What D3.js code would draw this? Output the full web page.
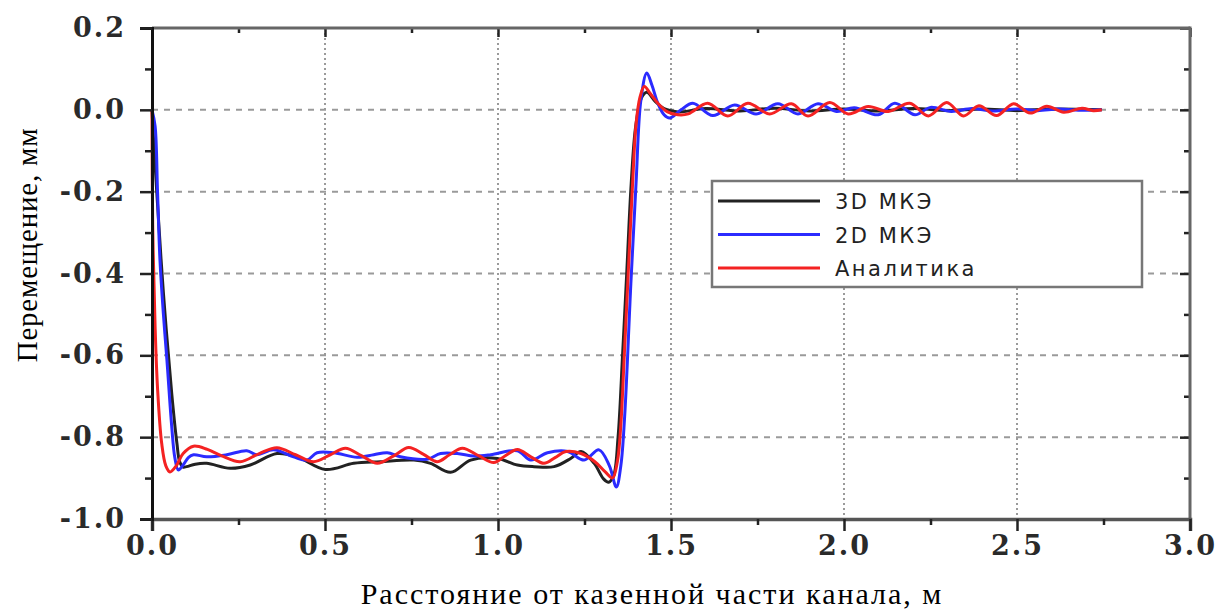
<!DOCTYPE html>
<html>
<head>
<meta charset="utf-8">
<script src="https://cdn.jsdelivr.net/npm/d3@7"></script>
<style>
  body { margin: 0; background: #fff; }
  svg { display: block; }
</style>
</head>
<body>
<div id="chart"></div>
<script>
// series names and colours in legend order
var seriesNames = ["3D МКЭ", "2D МКЭ", "Аналитика"];
var seriesColors = ["#222222", "#2b2bff", "#f42222"];

// tick values
var xMajor = [0, 0.5, 1.0, 1.5, 2.0, 2.5, 3.0];
var xMinor = [0.25, 0.75, 1.25, 1.75, 2.25, 2.75];
var yMajor = [0.2, 0.0, -0.2, -0.4, -0.6, -0.8, -1.0];
var yMinor = [0.1, -0.1, -0.3, -0.5, -0.7, -0.9];
var xGrid = [0.5, 1.0, 1.5, 2.0, 2.5];
var yGrid = [0.0, -0.2, -0.4, -0.6, -0.8];

// 3D МКЭ (black)
var fem3d = [[0,0],[0.005,-0.08],[0.014,-0.204],[0.033,-0.448],[0.057,-0.693],[0.072,-0.815],[0.08,-0.86],
  [0.09,-0.873],[0.1,-0.872],[0.125,-0.866],[0.158,-0.864],[0.226,-0.876],[0.284,-0.868],[0.361,-0.84],
  [0.419,-0.848],[0.501,-0.879],[0.583,-0.864],[0.66,-0.86],[0.757,-0.856],[0.805,-0.864],[0.863,-0.886],
  [0.921,-0.856],[0.998,-0.852],[1.056,-0.868],[1.104,-0.872],[1.162,-0.872],[1.21,-0.852],[1.24,-0.835],
  [1.278,-0.864],[1.305,-0.902],[1.32,-0.91],[1.334,-0.895],[1.347,-0.8],[1.36,-0.6],[1.372,-0.4],
  [1.385,-0.18],[1.398,-0.04],[1.415,0.03],[1.43,0.043],[1.455,0.02],[1.48,0.003],[1.52,-0.005],
  [1.6,0.003],[1.7,-0.003],[1.8,0.004],[1.9,-0.003],[2.0,0.002],[2.1,-0.003],[2.2,0.003],[2.3,-0.002],
  [2.4,0.002],[2.5,-0.002],[2.6,0.002],[2.745,0]];

// 2D МКЭ (blue)
var fem2d = [[0,0],[0.009,-0.04],[0.016,-0.2],[0.023,-0.367],[0.033,-0.5],[0.043,-0.61],[0.057,-0.774],
  [0.066,-0.85],[0.076,-0.88],[0.09,-0.868],[0.105,-0.85],[0.12,-0.843],[0.158,-0.848],[0.216,-0.843],
  [0.274,-0.833],[0.303,-0.843],[0.351,-0.831],[0.409,-0.848],[0.448,-0.856],[0.477,-0.838],[0.525,-0.838],
  [0.593,-0.849],[0.641,-0.843],[0.68,-0.838],[0.718,-0.848],[0.795,-0.854],[0.834,-0.84],[0.882,-0.84],
  [0.931,-0.846],[0.979,-0.843],[1.056,-0.833],[1.095,-0.856],[1.143,-0.838],[1.201,-0.835],[1.249,-0.856],
  [1.292,-0.831],[1.322,-0.87],[1.342,-0.922],[1.355,-0.87],[1.366,-0.75],[1.384,-0.424],[1.399,-0.179],
  [1.413,0.024],[1.43,0.09],[1.445,0.06],[1.462,0.016],[1.48,-0.012],[1.496,-0.02],[1.529,0],[1.563,0.016],
  [1.621,-0.014],[1.684,0.012],[1.746,-0.01],[1.809,0.015],[1.867,-0.01],[1.925,0.015],[1.978,-0.004],
  [2.03,0.005],[2.099,-0.012],[2.147,0.016],[2.205,-0.012],[2.25,0.006],[2.31,-0.004],[2.37,0.003],
  [2.43,-0.003],[2.5,0.002],[2.56,-0.002],[2.62,0.002],[2.69,-0.001],[2.745,0]];

// Аналитика (red)
var analytic = [[0,0],[0.002,-0.28],[0.009,-0.53],[0.016,-0.68],[0.028,-0.815],[0.04,-0.87],[0.052,-0.885],
  [0.07,-0.87],[0.09,-0.84],[0.12,-0.822],[0.16,-0.83],[0.2,-0.845],[0.255,-0.86],[0.31,-0.84],[0.361,-0.826],
  [0.415,-0.843],[0.467,-0.86],[0.515,-0.843],[0.559,-0.827],[0.605,-0.845],[0.651,-0.864],[0.7,-0.845],
  [0.742,-0.825],[0.785,-0.842],[0.824,-0.86],[0.86,-0.843],[0.897,-0.827],[0.945,-0.846],[0.988,-0.862],
  [1.02,-0.846],[1.056,-0.83],[1.095,-0.848],[1.133,-0.864],[1.165,-0.85],[1.196,-0.835],[1.24,-0.84],
  [1.28,-0.86],[1.31,-0.885],[1.331,-0.9],[1.345,-0.86],[1.355,-0.77],[1.365,-0.6],[1.375,-0.424],
  [1.389,-0.18],[1.399,-0.035],[1.41,0.03],[1.423,0.057],[1.44,0.04],[1.462,0.016],[1.49,-0.005],
  [1.52,-0.012],[1.55,-0.01],[1.606,0.016],[1.664,-0.015],[1.722,0.016],[1.785,-0.01],[1.848,0.015],
  [1.896,-0.015],[1.959,0.018],[2.012,-0.01],[2.07,0.008],[2.128,-0.004],[2.19,0.016],[2.244,-0.015],
  [2.297,0.018],[2.345,-0.015],[2.39,0.01],[2.441,-0.014],[2.49,0.015],[2.538,-0.008],[2.586,0.009],
  [2.635,-0.006],[2.688,0.004],[2.72,-0.002],[2.745,0]];

var seriesData = [fem3d, fem2d, analytic];

function drawChart(divName) {
    var width = 1221, height = 613;
    var pLeft = 152, pRight = 1190, pTop = 28, pBottom = 519;

    var x = d3.scaleLinear().domain([0, 3]).range([pLeft, pRight]);
    var y = d3.scaleLinear().domain([-1, 0.2]).range([pBottom, pTop]);

    var svg = d3.select('#' + divName).append('svg')
        .attr('width', width)
        .attr('height', height);

    var fmt = function (d) { return d.toFixed(1); };
    var noDomain = function (g) { g.select('.domain').remove(); };

    // grid
    svg.append('g').selectAll('line')
        .data(yGrid).enter().append('line')
        .attr('x1', pLeft).attr('x2', pRight)
        .attr('y1', function (d) { return y(d); })
        .attr('y2', function (d) { return y(d); })
        .style('stroke', '#9a9a9a')
        .style('stroke-width', 2)
        .style('stroke-dasharray', '6,6');

    svg.append('g').selectAll('line')
        .data(xGrid).enter().append('line')
        .attr('y1', pTop).attr('y2', pBottom)
        .attr('x1', function (d) { return x(d); })
        .attr('x2', function (d) { return x(d); })
        .style('stroke', '#9a9a9a')
        .style('stroke-width', 2)
        .style('stroke-dasharray', '2,3');

    // frame top / right (grey, ticks inward)
    svg.append('g')
        .attr('transform', 'translate(0,' + pTop + ')')
        .call(d3.axisBottom(x).tickValues(xMajor).tickSize(9).tickFormat(''))
        .call(noDomain);
    svg.append('g')
        .attr('transform', 'translate(0,' + pTop + ')')
        .call(d3.axisBottom(x).tickValues(xMinor).tickSize(5).tickFormat(''))
        .call(noDomain);
    svg.append('g')
        .attr('transform', 'translate(' + pRight + ',0)')
        .call(d3.axisLeft(y).tickValues(yMajor).tickSize(10).tickFormat(''))
        .call(noDomain);
    svg.append('g')
        .attr('transform', 'translate(' + pRight + ',0)')
        .call(d3.axisLeft(y).tickValues(yMinor).tickSize(6).tickFormat(''))
        .call(noDomain);

    svg.append('line').attr('x1', pLeft).attr('x2', pRight).attr('y1', pTop).attr('y2', pTop)
        .style('stroke', '#666').style('stroke-width', 3);
    svg.append('line').attr('x1', pRight).attr('x2', pRight).attr('y1', pTop - 1.5).attr('y2', pBottom)
        .style('stroke', '#666').style('stroke-width', 3);

    // curves
    var line = d3.line()
        .x(function (d) { return x(d[0]); })
        .y(function (d) { return y(d[1]); })
        .curve(d3.curveCatmullRom.alpha(0.5));

    svg.append('g').selectAll('path')
        .data(seriesData).enter().append('path')
        .attr('d', line)
        .style('fill', 'none')
        .style('stroke', function (d, i) { return seriesColors[i]; })
        .style('stroke-width', 3)
        .style('stroke-linejoin', 'round');

    // bottom axis
    var xAxis = svg.append('g')
        .attr('class', 'axis')
        .attr('transform', 'translate(0,' + pBottom + ')')
        .call(d3.axisBottom(x).tickValues(xMajor).tickSize(12).tickPadding(5).tickFormat(fmt));
    xAxis.select('.domain').style('stroke', '#555').style('stroke-width', 3.5);
    svg.append('g')
        .attr('transform', 'translate(0,' + pBottom + ')')
        .call(d3.axisBottom(x).tickValues(xMinor).tickSize(6).tickFormat(''))
        .call(noDomain);

    // left axis
    var yAxis = svg.append('g')
        .attr('class', 'axis')
        .attr('transform', 'translate(' + pLeft + ',0)')
        .call(d3.axisLeft(y).tickValues(yMajor).tickSize(12).tickPadding(14).tickFormat(fmt));
    yAxis.select('.domain').style('stroke', '#111').style('stroke-width', 3);
    svg.append('g')
        .attr('transform', 'translate(' + pLeft + ',0)')
        .call(d3.axisLeft(y).tickValues(yMinor).tickSize(7).tickFormat(''))
        .call(noDomain);

    svg.selectAll('.tick line').style('stroke', '#222').style('stroke-width', 2.5);
    svg.selectAll('.axis text')
        .style('font-family', '"DejaVu Serif", serif')
        .style('font-weight', 'bold')
        .style('font-size', '27px')
        .style('letter-spacing', '2px')
        .style('fill', '#2a2a2a');

    // axis titles
    svg.append('text')
        .attr('x', 652).attr('y', 604)
        .attr('text-anchor', 'middle')
        .style('font-family', '"Liberation Serif", serif')
        .style('font-size', '30px')
        .style('letter-spacing', '2px')
        .style('fill', '#000')
        .text('Расстояние от казенной части канала, м');

    svg.append('text')
        .attr('transform', 'translate(37,245) rotate(-90)')
        .attr('text-anchor', 'middle')
        .style('font-family', '"Liberation Serif", serif')
        .style('font-size', '29px')
        .style('letter-spacing', '0.8px')
        .style('fill', '#000')
        .text('Перемещение, мм');

    // legend
    var legend = svg.append('g');
    legend.append('rect')
        .attr('x', 712).attr('y', 181).attr('width', 430).attr('height', 106)
        .style('fill', '#fff')
        .style('stroke', '#777')
        .style('stroke-width', 2.5);

    var rows = legend.selectAll('g.row')
        .data(seriesNames).enter().append('g')
        .attr('class', 'row')
        .attr('transform', function (d, i) { return 'translate(0,' + (201 + i * 33.5) + ')'; });

    rows.append('line')
        .attr('x1', 718).attr('x2', 820)
        .style('stroke', function (d, i) { return seriesColors[i]; })
        .style('stroke-width', 3);

    rows.append('text')
        .attr('x', 835).attr('y', 8)
        .style('font-family', '"DejaVu Sans", sans-serif')
        .style('font-size', '21px')
        .style('letter-spacing', '2.5px')
        .style('fill', '#222')
        .text(function (d) { return d; });
}

drawChart('chart');
</script>
</body>
</html>
